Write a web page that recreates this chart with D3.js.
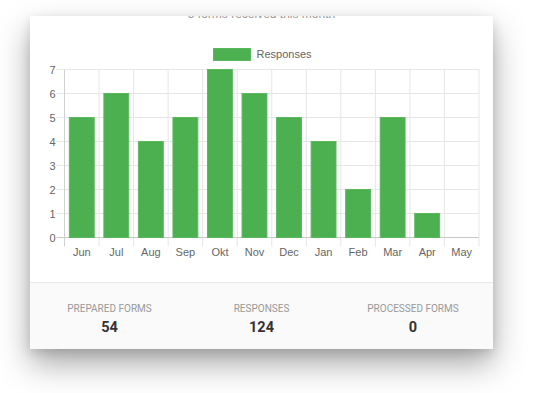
<!DOCTYPE html>
<html>
<head>
<meta charset="utf-8">
<script src="https://cdn.jsdelivr.net/npm/d3@7"></script>
<style>
  html, body { margin: 0; padding: 0; background: #fff; width: 535px; height: 393px; overflow: hidden; }
  #card {
    position: absolute; left: 30px; top: 16px; width: 463px; height: 333px;
    background: #fff; box-shadow: 0 15px 30px rgba(0,0,0,0.34), 0 4px 10px rgba(0,0,0,0.12);
  }
  #footer {
    position: absolute; left: 0; top: 266px; width: 463px; height: 67px;
    background: #fafafa; border-top: 1px solid #e8e8e8; box-sizing: border-box;
  }
  #chart { position: absolute; left: 0; top: 0; }
</style>
</head>
<body>
<div id="card"><div id="footer"></div></div>
<svg id="chart" width="535" height="393"></svg>
<script>
// chart data
var months = ["Jun", "Jul", "Aug", "Sep", "Okt", "Nov", "Dec", "Jan", "Feb", "Mar", "Apr", "May"];
var responses = [5, 6, 4, 5, 7, 6, 5, 4, 2, 5, 1, 0];
var yTicks = [0, 1, 2, 3, 4, 5, 6, 7];

// footer stats
var statLabels = ["PREPARED FORMS", "RESPONSES", "PROCESSED FORMS"];
var statValues = [54, 124, 0];

var svg = d3.select("#chart");
var plotLeft = 64.5, plotRight = 479, plotTop = 69.5, plotBottom = 237.5;

var x = d3.scaleBand().domain(months).range([plotLeft, plotRight]).padding(0);
var y = d3.scaleLinear().domain([0, 7]).range([plotBottom, plotTop]);

// subtitle, scrolled mostly out of the card
svg.append("defs").append("clipPath").attr("id", "cardclip")
  .append("rect").attr("x", 30).attr("y", 16).attr("width", 463).attr("height", 20);
svg.append("g").attr("clip-path", "url(#cardclip)")
  .append("text")
  .attr("x", 261.5).attr("y", 17.5)
  .attr("text-anchor", "middle")
  .style("font", "12px 'Liberation Sans', Arial, sans-serif")
  .style("fill", "#999")
  .text("5 forms received this month");

// horizontal grid lines (extend left as ticks)
svg.append("g").selectAll("line")
  .data(yTicks.slice(1))
  .enter().append("line")
  .attr("x1", plotLeft - 8).attr("x2", plotRight)
  .attr("y1", function(d) { return y(d); })
  .attr("y2", function(d) { return y(d); })
  .attr("stroke", "#e6e6e6").attr("stroke-width", 1);

// vertical grid lines at band edges (extend below as ticks)
var edges = months.map(function(m) { return x(m); }).slice(1).concat([plotRight]);
svg.append("g").selectAll("line")
  .data(edges)
  .enter().append("line")
  .attr("x1", function(d) { return d; }).attr("x2", function(d) { return d; })
  .attr("y1", plotTop).attr("y2", plotBottom + 9)
  .attr("stroke", "#e6e6e6").attr("stroke-width", 1);

// axis lines
svg.append("line").attr("x1", plotLeft).attr("x2", plotLeft).attr("y1", plotTop).attr("y2", plotBottom + 9)
  .attr("stroke", "#d0d0d0");
svg.append("line").attr("x1", plotLeft - 8).attr("x2", plotRight).attr("y1", plotBottom).attr("y2", plotBottom)
  .attr("stroke", "#c8c8c8");

// bars
var bw = x.bandwidth() * 0.72;
svg.append("g").selectAll("rect")
  .data(responses)
  .enter().append("rect")
  .attr("x", function(d, i) { return x(months[i]) + (x.bandwidth() - bw) / 2; })
  .attr("y", function(d) { return y(d); })
  .attr("width", bw)
  .attr("height", function(d) { return plotBottom - y(d); })
  .attr("fill", "#4caf50")
  .attr("stroke", function(d) { return d > 0 ? "#5cb860" : "none"; })
  .attr("stroke-width", 1);

// y axis labels
var yAxis = svg.append("g")
  .attr("transform", "translate(" + (plotLeft - 9) + ",0)")
  .call(d3.axisLeft(y).tickValues(yTicks).tickSize(0).tickPadding(0).tickFormat(d3.format("d")));
yAxis.select(".domain").remove();
yAxis.selectAll("text")
  .style("font", "11px 'Liberation Sans', Arial, sans-serif")
  .style("fill", "#666");

// x axis labels
var xAxis = svg.append("g")
  .attr("transform", "translate(0," + plotBottom + ")")
  .call(d3.axisBottom(x).tickSize(0).tickPadding(11));
xAxis.select(".domain").remove();
xAxis.selectAll("text")
  .style("font", "11px 'Liberation Sans', Arial, sans-serif")
  .style("fill", "#666");

// legend
svg.append("rect")
  .attr("x", 213.5).attr("y", 48.5).attr("width", 37).attr("height", 12)
  .attr("fill", "#4caf50").attr("stroke", "#5cb860");
svg.append("text")
  .attr("x", 256.5).attr("y", 58)
  .style("font", "11px 'Liberation Sans', Arial, sans-serif")
  .style("fill", "#666")
  .text("Responses");

// footer stats
var statX = [109.5, 261.5, 413];
var stats = svg.append("g").selectAll("g")
  .data(statLabels)
  .enter().append("g")
  .attr("transform", function(d, i) { return "translate(" + statX[i] + ",0)"; });
stats.append("text")
  .attr("y", 311.5).attr("text-anchor", "middle")
  .style("font", "10px Roboto, sans-serif")
  .style("fill", "#999")
  .text(function(d) { return d; });
stats.append("text")
  .attr("y", 332).attr("text-anchor", "middle")
  .style("font", "bold 14.5px Roboto, sans-serif")
  .style("fill", "#333")
  .text(function(d, i) { return statValues[i]; });
</script>
</body>
</html>
